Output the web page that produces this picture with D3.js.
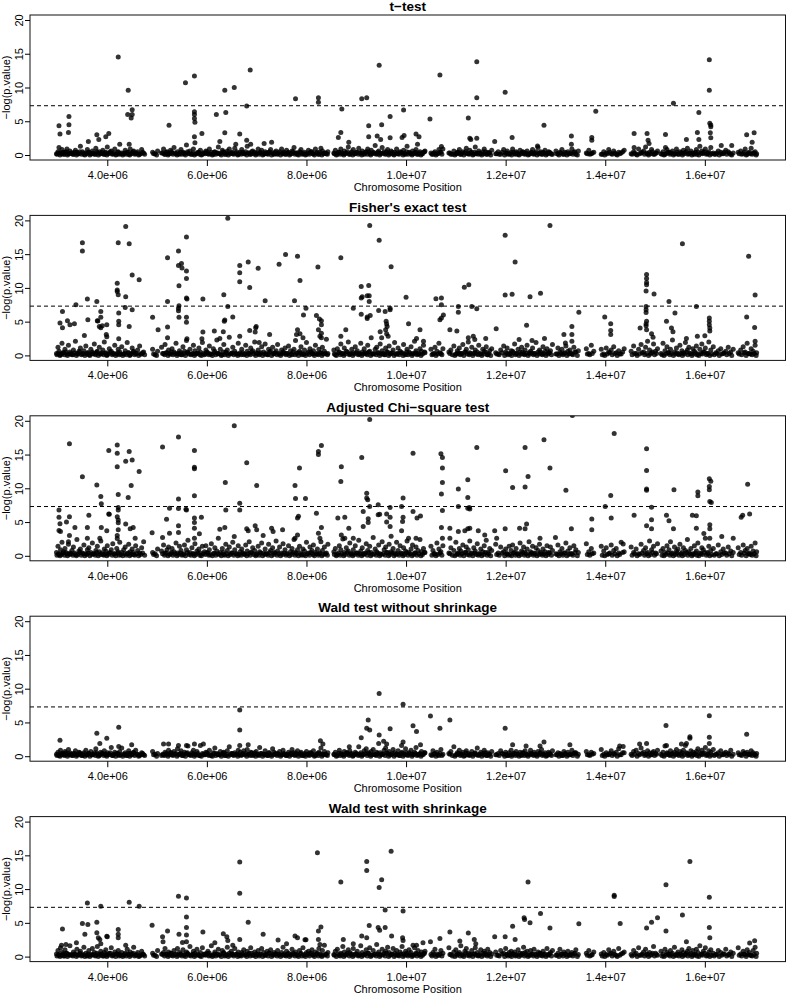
<!DOCTYPE html>
<html><head><meta charset="utf-8">
<script src="https://cdn.jsdelivr.net/npm/d3@7"></script>
<style>body{margin:0;background:#fff}svg{display:block}</style>
</head><body>
<svg id="chart" width="786" height="994"></svg>
<script>
// ---------------- data ----------------
const panelTitles = ["t\u2212test", "Fisher's exact test", "Adjusted Chi\u2212square test", "Wald test without shrinkage", "Wald test with shrinkage"];
const xTickValues = [4, 6, 8, 10, 12, 14, 16]; // Mb
const xTickLabels = ["4.0e+06", "6.0e+06", "8.0e+06", "1.0e+07", "1.2e+07", "1.4e+07", "1.6e+07"];
const yTickValues = [0, 5, 10, 15, 20];
const xLabel = "Chromosome Position";
const yLabel = "\u2212log(p.value)";
const threshold = 7.3;

// SNP positions (Mb) of the dense low band
const snpPos = [
2.98,3.01,3.03,3.06,3.09,3.12,3.15,3.19,3.22,3.25,3.29,3.32,3.36,3.39,3.43,3.46,3.5,3.53,3.57,3.6,
3.63,3.67,3.7,3.74,3.77,3.8,3.84,3.87,3.91,3.94,3.97,4.0,4.04,4.08,4.11,4.15,4.19,4.22,4.25,4.29,
4.33,4.36,4.4,4.43,4.46,4.5,4.53,4.57,4.61,4.65,4.69,4.73,4.91,4.96,5.01,5.09,5.13,5.16,5.2,5.23,
5.27,5.3,5.34,5.38,5.41,5.45,5.48,5.52,5.55,5.59,5.62,5.66,5.7,5.73,5.76,5.8,5.84,5.87,5.91,5.95,
5.98,6.02,6.05,6.09,6.13,6.16,6.2,6.23,6.27,6.31,6.34,6.38,6.41,6.45,6.49,6.52,6.56,6.6,6.63,6.67,
6.7,6.74,6.78,6.81,6.85,6.88,6.92,6.96,6.99,7.03,7.06,7.1,7.14,7.17,7.21,7.24,7.28,7.32,7.35,7.39,
7.42,7.46,7.5,7.53,7.57,7.6,7.64,7.68,7.71,7.75,7.78,7.82,7.86,7.89,7.93,7.96,8.0,8.04,8.07,8.11,
8.14,8.18,8.22,8.25,8.29,8.32,8.36,8.4,8.43,8.55,8.58,8.62,8.66,8.69,8.73,8.76,8.8,8.84,8.87,8.91,
8.94,8.98,9.02,9.05,9.09,9.12,9.16,9.2,9.23,9.27,9.3,9.34,9.38,9.41,9.45,9.48,9.52,9.56,9.59,9.63,
9.66,9.7,9.74,9.77,9.81,9.84,9.88,9.92,9.95,9.99,10.02,10.06,10.1,10.13,10.17,10.2,10.24,10.28,10.31,10.35,
10.38,10.5,10.54,10.58,10.62,10.66,10.7,10.74,10.86,10.9,10.96,11.0,11.03,11.07,11.1,11.14,11.18,11.21,11.25,11.28,
11.32,11.36,11.39,11.43,11.46,11.5,11.54,11.57,11.61,11.64,11.68,11.72,11.8,11.85,11.9,11.96,12.0,12.03,12.07,12.11,
12.14,12.18,12.21,12.25,12.29,12.32,12.36,12.39,12.43,12.47,12.5,12.54,12.57,12.61,12.65,12.68,12.72,12.75,12.79,12.83,
12.86,12.9,12.94,13.01,13.05,13.09,13.13,13.17,13.21,13.25,13.29,13.33,13.37,13.41,13.46,13.62,13.67,13.72,13.77,13.92,
13.97,14.02,14.07,14.12,14.17,14.22,14.27,14.32,14.38,14.52,14.57,14.62,14.67,14.72,14.77,14.81,14.85,14.89,14.93,14.97,
15.01,15.05,15.12,15.16,15.2,15.24,15.28,15.31,15.35,15.39,15.43,15.46,15.5,15.54,15.57,15.61,15.65,15.68,15.72,15.76,
15.79,15.83,15.86,15.9,15.94,15.97,16.01,16.05,16.08,16.12,16.17,16.22,16.27,16.32,16.37,16.42,16.47,16.52,16.57,16.67,
16.72,16.77,16.81,16.85,16.89,16.93,16.97,17.01,17.04];

// null SNPs (positions in Mb, -log p) that sit at the bottom of every panel
const nullPos = [
2.99,3.02,3.05,3.08,3.11,3.14,3.17,3.2,3.24,3.27,3.31,3.34,3.38,3.41,3.45,3.48,3.52,3.55,3.59,3.62,
3.65,3.69,3.72,3.76,3.79,3.82,3.86,3.89,3.93,3.96,3.99,4.02,4.06,4.1,4.13,4.17,4.21,4.24,4.27,4.31,
4.35,4.38,4.42,4.45,4.48,4.52,4.55,4.59,4.63,4.67,4.71,4.75,4.93,4.99,5.11,5.15,5.18,5.22,5.25,5.29,
5.32,5.36,5.4,5.43,5.47,5.5,5.54,5.57,5.61,5.64,5.68,5.72,5.75,5.78,5.82,5.86,5.89,5.93,5.97,6.0,
6.04,6.07,6.11,6.15,6.18,6.22,6.25,6.29,6.33,6.36,6.4,6.43,6.47,6.51,6.54,6.58,6.62,6.65,6.69,6.72,
6.76,6.8,6.83,6.87,6.9,6.94,6.98,7.01,7.05,7.08,7.12,7.16,7.19,7.23,7.26,7.3,7.34,7.37,7.41,7.44,
7.48,7.52,7.55,7.59,7.62,7.66,7.7,7.73,7.77,7.8,7.84,7.88,7.91,7.95,7.98,8.02,8.06,8.09,8.13,8.16,
8.2,8.24,8.27,8.31,8.34,8.38,8.42,8.56,8.6,8.64,8.68,8.71,8.75,8.78,8.82,8.86,8.89,8.93,8.96,9.0,
9.04,9.07,9.11,9.14,9.18,9.22,9.25,9.29,9.32,9.36,9.4,9.43,9.47,9.5,9.54,9.58,9.61,9.65,9.68,9.72,
9.76,9.79,9.83,9.86,9.9,9.94,9.97,10.01,10.04,10.08,10.12,10.15,10.19,10.22,10.26,10.3,10.33,10.37,10.52,10.56,
10.6,10.64,10.68,10.72,10.88,10.93,10.98,11.02,11.05,11.09,11.12,11.16,11.2,11.23,11.27,11.3,11.34,11.38,11.41,11.45,
11.48,11.52,11.56,11.59,11.63,11.66,11.7,11.82,11.87,11.93,11.98,12.02,12.05,12.09,12.12,12.16,12.2,12.23,12.27,12.31,
12.34,12.38,12.41,12.45,12.49,12.52,12.56,12.59,12.63,12.67,12.7,12.74,12.77,12.81,12.85,12.88,12.92,13.03,13.07,13.11,
13.15,13.19,13.23,13.27,13.31,13.35,13.39,13.44,13.64,13.69,13.74,13.94,13.99,14.04,14.09,14.14,14.19,14.24,14.29,14.35,
14.54,14.59,14.64,14.69,14.74,14.79,14.83,14.87,14.91,14.95,14.99,15.03,15.14,15.18,15.22,15.26,15.3,15.33,15.37,15.41,
15.44,15.48,15.52,15.55,15.59,15.63,15.66,15.7,15.74,15.77,15.81,15.84,15.88,15.92,15.95,15.99,16.03,16.06,16.1,16.14,
16.19,16.24,16.29,16.34,16.39,16.44,16.49,16.54,16.69,16.74,16.79,16.83,16.87,16.91,16.95,16.99,17.03];
const nullVals = [
.1,.3,0,.2,.4,.1,.5,0,.2,.3,.1,.4,0,.2,.5,.1,.3,0,.2,.4,
0,.2,.3,.1,.5,0,.2,.4,.1,.3,0,.2,.5,.1,.3,0,.4,.1,.2,0,
.3,.1,.4,0,.2,.5,.1,.3,0,.2,.4,.1,.2,0,.3,.1,.4,0,.2,.5,
.1,.3,0,.2,.4,.1,.3,0,.5,.2,.1,.3,0,.2,.4,.1,0,.3,.2,.5,
.1,.2,0,.4,.1,.3,.2,0,.5,.1,.3,0,.2,.4,.1,.3,0,.2,.1,.4,
.2,0,.3,.1,.5,.2,0,.3,.1,.4,0,.2,.3,.1,.5,0,.2,.4,.1,.3,
0,.2,.4,.1,.3,0,.2,.5,.1,.3,0,.4,.1,.2,0,.3,.1,.5,.2,0,
.3,.1,.4,0,.2,.3,.1,.2,0,.4,.1,.3,0,.2,.5,.1,.3,0,.2,.4,
.1,.3,0,.2,.4,.1,.5,0,.2,.3,.1,.4,0,.2,.3,.1,.5,0,.2,.4,
0,.2,.3,.1,.4,0,.2,.5,.1,.3,0,.2,.4,.1,.3,0,.2,.5,.1,.3,
0,.2,.4,.1,.3,.1,0,.2,.4,.1,.3,0,.5,.2,.1,.3,0,.4,.2,.1,
.3,0,.2,.5,.1,.3,0,.2,.1,.4,0,.3,.1,.2,0,.4,.1,.3,0,.2,
.5,.1,.3,0,.2,.4,.1,.3,0,.2,.5,.1,.3,0,.2,.4,.1,.2,0,.3,
.1,.4,0,.2,.3,.1,.5,0,.2,.1,.3,.1,0,.2,.4,.1,.3,0,.2,.5,
.1,.3,0,.2,.4,.1,.3,0,.2,.5,.1,.3,.1,0,.2,.4,.1,.3,0,.2,
.4,.1,.3,0,.2,.5,.1,.3,0,.2,.4,.1,0,.3,.2,.5,.1,.3,0,.2,
.1,.3,0,.2,.4,.1,.3,0,.2,.1,.4,0,.3,.2,.1,.3,0];

// -log(p) of the band SNPs, one array per test
const tTestBand = [
.2,.5,1.1,.3,.8,.1,.4,.9,.2,.6,.3,.1,.7,.4,.2,1.3,.5,.1,.3,.8,
.4,.2,.6,.1,1.0,.3,.5,.2,.7,.1,.4,1.2,.3,.6,.2,.9,.1,.5,1.6,.3,
.2,.7,.4,.1,.9,.3,.6,.2,.5,.1,.8,.3,.4,.2,.6,.3,.9,.1,.5,.2,
.7,.3,1.1,.2,.5,.1,.8,.4,.2,1.5,.3,.6,.1,.9,1.8,.2,.4,.7,.1,.3,
.6,.2,.9,.4,.1,.5,.3,1.2,.2,.7,.4,.1,.6,.9,.3,.2,1.0,.5,.1,.4,
.8,.2,.5,1.3,.3,.1,.6,.4,.2,.9,.3,.7,.1,.5,.2,.4,.8,.3,.1,.6,
.2,.5,.9,.3,.1,.7,.4,.2,.6,1.1,.3,.1,.5,.8,.2,.4,.1,.7,.3,.5,
.2,.9,.4,.1,1.0,.6,.3,.2,.5,.3,.7,.1,.4,.9,.2,.6,.3,1.2,.1,.5,
.8,.2,.4,1.0,.3,.6,.1,.5,.9,.2,.7,.4,1.4,.2,.6,.3,1.1,.5,.2,.8,
.3,.6,.1,.4,.9,.2,.5,.3,.7,.1,1.3,.4,.2,.6,.3,.8,.1,.5,.2,.4,
.6,.3,.1,.5,.2,.8,.4,.9,.3,.1,.6,.2,.4,.8,.1,.5,.3,1.0,.2,.7,
.4,.1,1.2,.3,.6,.2,.5,.9,.1,.4,.3,.7,.2,.5,.1,.8,.3,.6,.2,.4,
.9,.2,.5,.1,.7,.3,.4,.2,.6,.1,.3,.8,.2,.5,1.1,.3,.1,.4,.7,.2,
.5,.3,.1,.6,.2,.4,.8,.1,.3,.5,.2,.9,.4,.1,.6,.3,.7,.2,.4,.1,
.5,.3,.8,.2,.6,.1,.4,.3,.7,.2,.5,.1,.9,.3,.6,1.2,.2,.4,.8,.1,
.3,.6,.2,.5,.1,.8,.4,.3,.6,.2,.9,.1,.5,.3,.7,.4,1.0,.2,.6,.3,
.1,.8,.4,1.3,.6,.3,.9,.2,.5,1.1,.3,.1,.6,.4,.2,.7,.5,.1,.3,.4,
.6,.2,.9,.1,.4,1.0,.3,.5,.2];
const fisherBand = [
.3,1.2,.6,.1,1.8,.4,.9,.2,1.5,.5,.1,.8,2.1,.3,.6,1.1,.2,.7,1.4,.4,
.1,.9,.5,1.7,.3,.6,1.2,.2,.8,2.0,.4,.1,1.0,.6,.3,1.5,.2,.9,.5,1.3,
.2,.7,1.9,.4,.1,1.1,.6,.3,.8,1.4,.2,.5,.9,.1,.6,1.2,.3,1.6,.4,.8,
.2,1.0,.5,1.8,.3,.7,.1,1.3,.6,2.2,.4,.9,.2,1.5,.7,.3,1.1,.5,1.9,.1,
.8,.4,1.4,.2,1.0,.6,2.3,.3,.9,.1,1.6,.5,.8,2.7,.3,1.2,.6,.2,1.8,.4,
.9,.1,1.5,.6,.3,1.1,.7,2.0,.4,.8,.2,1.3,.5,1.7,.1,.9,.6,1.2,.3,.7,
1.6,.2,.8,.5,1.1,.3,1.4,.7,.1,.9,2.2,.4,.6,1.3,.2,.8,1.9,.5,1.0,.3,
.7,1.5,.2,.9,.4,1.2,.6,2.4,.3,.8,.1,1.0,.5,1.7,.3,1.1,.6,2.0,.2,.9,
.4,1.3,.7,.2,1.8,.5,1.0,.3,1.5,.6,2.6,.2,.9,1.2,.4,1.7,.7,.1,1.1,.5,
1.4,.3,.8,1.9,.2,1.1,.6,.4,1.6,.1,.9,.5,1.3,.3,2.1,.7,.2,1.0,.6,1.5,
.4,.9,.2,1.2,.6,1.8,.3,1.0,.5,.8,1.4,.2,.7,1.1,.3,1.6,.5,.9,2.0,.4,
1.2,.3,.8,.5,1.5,.2,.9,.6,1.3,.1,.7,1.0,.4,.2,.8,1.4,.5,1.1,.3,.7,
.6,1.7,.3,.9,.5,1.2,.2,.8,1.5,.4,.6,1.1,.3,1.9,.5,.8,.2,1.3,.6,1.0,
.4,.7,1.6,.2,1.1,.5,.9,.3,1.4,.6,.8,.2,1.2,.5,.7,1.0,.3,1.5,.6,.9,
.2,1.1,.5,.8,1.3,.4,.7,.2,1.0,.6,1.4,.3,.9,1.6,.5,1.2,2.1,.8,.4,1.7,
.6,1.0,.3,1.8,.7,1.3,.4,.9,2.3,.5,1.1,.2,1.5,.7,.4,1.9,.8,1.2,.3,1.0,
.6,1.4,.2,.9,1.7,.5,1.1,.3,2.0,.8,1.3,.4,.7,1.0,.3,.6,1.2,.5,.9,.4,
.8,1.3,.5,1.8,.3,1.0,.6,1.5,.4];
const chisqBand = [
.5,1.4,.2,.9,2.0,.6,1.1,.3,1.7,.4,.8,1.3,.2,2.4,.7,1.0,.4,1.6,.3,.9,
1.2,.5,1.9,.3,.8,1.4,.6,2.2,.2,1.0,.7,1.5,.4,.9,1.8,.3,1.1,.6,2.0,.5,
.9,1.3,.3,1.7,.6,1.0,.2,1.5,.8,.4,1.2,2.1,.5,.3,1.0,.7,1.6,.4,.9,1.3,
.3,1.1,.6,1.9,.4,1.4,.8,.2,1.6,.9,2.3,.5,1.2,.3,1.8,.7,1.0,.4,1.4,.6,
1.5,.4,.9,1.8,.3,1.2,.7,2.6,.5,1.1,.2,1.7,.8,1.3,.4,2.0,.9,.3,1.5,.6,
1.0,.3,1.6,.7,2.1,.5,1.2,.8,.2,1.4,.6,1.9,.4,1.0,.3,1.7,.8,1.2,.5,2.2,
.7,1.3,.4,1.8,.9,.3,1.5,.6,1.1,2.4,.5,.9,1.4,.2,1.0,.7,2.0,.4,1.3,.8,
1.6,.5,1.0,.3,2.1,.8,1.3,.4,1.7,.6,1.1,.2,1.5,.9,2.5,.5,1.2,.7,1.9,.3,
.9,1.5,.4,2.3,.7,1.2,.3,1.8,.8,1.4,.5,2.7,1.0,.6,1.6,.3,2.1,.9,1.3,.5,
1.7,.6,1.1,.4,2.0,.8,1.5,.3,1.2,.7,2.2,.5,1.0,1.6,.4,1.3,.8,2.4,.6,1.1,
.5,1.4,.8,.3,1.9,1.0,.6,1.5,.4,1.2,.8,2.0,.3,1.1,.7,1.6,.5,1.3,.9,2.2,
.4,1.2,.7,1.8,.3,1.0,.6,1.5,2.3,.5,1.1,.8,1.7,.4,1.3,.6,1.0,.3,1.4,.8,
1.6,.5,1.1,.3,1.9,.7,1.3,.5,1.0,2.1,.6,1.4,.4,1.2,.8,1.7,.3,1.0,.6,1.5,
.5,1.3,.8,.3,1.6,.6,1.1,.4,1.9,.7,1.2,.3,1.5,.9,.5,1.8,.6,1.1,.4,1.4,
.7,1.2,.3,1.6,.8,1.1,.4,2.0,.6,1.3,.5,1.0,.3,1.7,.8,1.2,.5,2.2,.9,1.4,
.4,1.8,.7,1.1,.5,1.5,.9,2.1,.4,1.3,.7,1.0,1.7,.5,1.2,.8,2.4,.6,1.1,.3,
1.5,.7,1.9,.4,1.2,.9,2.6,.5,1.4,.8,1.1,.3,1.6,.6,1.0,.4,1.3,.7,.5,1.2,
.5,1.6,.8,1.1,.4,1.4,.7,1.9,.6];
const waldBand = [
.3,.6,.1,.9,.4,.2,.7,.3,1.0,.5,.1,.4,.8,.2,.6,.3,.1,.5,.9,.2,
.4,.7,.2,.5,1.1,.3,.1,.6,.4,.8,.2,.5,.3,1.3,.1,.6,.4,.2,.7,1.2,
.3,.5,.1,.8,.4,.2,.6,.9,.3,.1,.5,.2,.7,.3,.4,.1,.2,.6,.3,.9,
.5,.2,.7,.4,1.1,.3,.8,.1,.6,.4,1.5,.2,.5,.9,.3,.7,.1,1.6,.4,.2,
.6,.3,.9,.1,.5,1.2,.4,.2,.7,.3,.6,.1,.8,1.4,.4,.2,.5,.3,.9,.6,
.2,.8,.4,1.0,.3,.6,.1,.5,.7,.2,1.3,.4,.3,.8,.1,.5,.2,1.1,.6,.3,
.4,.7,.2,.9,.3,.1,.6,.4,1.0,.2,.5,.8,.3,.6,.1,.4,.7,.2,.5,.3,
.8,.1,.4,.6,1.2,.3,.7,.2,.5,.3,.6,.1,.9,.4,.2,.7,.5,.3,.8,.4,
.1,.6,.3,1.4,.5,.2,.8,1.1,.4,.3,.7,1.0,.2,.6,1.9,.5,.3,.9,1.2,.4,
.7,.2,1.0,.5,.3,.8,.1,.6,.4,1.1,.2,.5,.9,.3,.6,1.3,.2,.4,.7,.3,
.5,.2,.8,.4,.6,.1,1.0,.3,.4,.7,1.4,.2,.5,.9,.3,.6,.1,.8,.4,.2,
.7,.3,.5,1.2,.2,.6,.4,.9,.1,.5,.3,.7,.2,.4,.8,.3,.6,.1,.5,.9,
.2,.4,.7,.3,.6,.1,.5,.8,.2,.4,.9,.3,.6,.2,.7,.4,1.0,.3,.5,.1,
.6,.3,.8,.2,.5,.4,.1,.7,.3,.6,.2,.9,.4,.5,.3,.7,.2,.6,.4,1.0,
.3,.5,.2,.8,.4,.6,1.1,.2,.5,.3,.7,.9,.4,1.2,.6,.3,.8,.5,.2,.7,
.4,.9,.3,.6,1.5,.5,.2,.8,.4,.6,1.0,.3,.7,.5,.9,1.6,.4,.2,.8,.6,
.3,.7,1.1,.5,.9,.4,1.3,.2,.8,.6,1.0,.3,.5,.8,.2,.6,.4,.9,.3,.5,
.2,.7,.4,.6,.3,.8,.5,.2,.4];
const waldShrinkBand = [
.4,.9,.2,1.3,.6,.1,1.0,.5,.3,1.6,.2,.7,.4,1.1,.3,.8,.2,1.4,.5,.1,
.9,.3,1.2,.6,.2,1.5,.4,.8,.1,.6,1.0,.3,.5,1.3,.2,.7,.4,.9,.3,.6,
.2,.5,1.1,.3,.7,.4,1.4,.2,.6,.1,.8,.3,.5,.2,.9,.4,.6,1.2,.3,.7,
.5,.2,.9,.4,1.2,.6,.3,1.0,.2,.7,.4,1.5,.3,.8,.5,1.1,.2,.6,1.3,.4,
.3,.8,.5,1.6,.2,.7,.4,1.1,.3,.9,.6,.2,1.4,.5,.8,.3,1.2,.4,.7,.2,
.6,1.0,.3,.8,.5,1.3,.2,.7,.4,.9,.3,1.2,.6,.2,.8,.5,1.0,.3,.6,.4,
.9,.3,.6,1.4,.2,.8,.5,.3,1.1,.4,.7,.2,.9,.5,1.3,.3,.6,.8,.4,1.0,
.3,.7,.5,1.2,.2,.9,1.7,.4,.6,.3,.8,1.1,.2,.5,1.5,.7,.3,1.0,.6,.4,
1.2,.4,.8,.2,1.6,.6,.3,1.0,.5,1.3,.2,.9,.4,1.8,.7,.3,1.1,.5,.8,1.4,
.6,.3,1.2,.5,.9,.2,.7,1.5,.4,.8,.3,1.0,.6,.2,1.3,.5,.9,.3,.7,.4,
.8,.3,.6,1.1,.4,.2,.9,.5,1.3,.3,.7,1.0,.4,.6,1.6,.2,.8,1.2,.5,.3,
.9,.4,1.3,.6,.2,1.0,.5,.8,.3,1.1,.6,.4,.7,.2,.9,.5,1.2,.3,.6,.8,
.4,.7,.2,1.0,.5,.3,1.4,.6,.8,.2,.9,.4,1.1,.3,.7,.5,.2,.8,.4,1.2,
.3,.6,.9,.2,.5,1.1,.4,.7,.3,.8,.2,.6,.4,1.0,.3,.5,.9,.2,.7,.4,
.6,.3,1.0,.5,.8,.2,1.2,.4,.7,.3,.9,.5,1.3,.2,.7,1.1,.4,.6,.3,1.5,
.5,.2,.8,.4,1.1,.6,.3,.9,.5,1.4,.2,.7,.4,1.0,.6,.3,.8,1.2,.5,.9,
.3,1.1,.6,1.6,.4,.8,1.3,.2,.7,1.0,.5,.3,.9,.6,.4,1.1,.3,.7,.5,1.3,
.4,.8,.3,1.0,.6,.2,.9,1.4,.5];

// higher SNPs, [position (Mb), -log(p)]
const tTestHits = [[3.03,4.35],[3.05,3.1],[3.23,5.7],[3.23,4.5],[3.22,3.35],[3.62,2.0],[3.79,3.0],[3.83,2.3],[3.97,2.7],[4.03,3.2],[4.22,14.5],[4.42,9.6],[4.41,6.0],[4.5,6.7],[4.5,6.0],[4.48,5.5],[4.44,1.6],[5.24,4.4],[5.57,10.7],[5.75,11.7],[5.75,6.4],[5.75,6.0],[5.75,5.4],[5.76,4.85],[5.75,2.7],[5.9,3.2],[6.19,6.0],[6.26,2.0],[6.36,9.6],[6.38,6.3],[6.36,3.3],[6.55,10.0],[6.66,3.1],[6.8,7.25],[6.8,2.2],[6.87,12.6],[6.88,1.6],[6.58,1.6],[7.15,1.7],[7.3,1.9],[7.78,8.35],[8.24,8.5],[8.24,7.8],[8.71,6.8],[8.69,3.35],[8.64,2.6],[8.85,1.9],[9.11,8.35],[9.21,8.5],[9.46,13.3],[9.68,5.7],[9.51,4.5],[9.25,4.35],[9.42,2.8],[9.49,2.3],[9.25,2.7],[9.68,2.55],[9.95,6.65],[9.92,2.6],[9.96,2.9],[10.2,3.1],[10.26,2.7],[10.23,1.6],[10.48,5.35],[10.68,11.85],[10.71,1.25],[11.25,5.5],[11.42,13.8],[11.42,8.5],[11.28,2.5],[11.3,2.3],[11.42,2.5],[11.78,2.0],[11.99,9.3],[12.13,2.6],[12.77,4.4],[12.64,1.35],[13.32,2.8],[13.32,1.6],[13.81,6.5],[13.73,2.6],[13.73,2.2],[14.58,3.2],[14.58,1.1],[14.84,3.2],[14.86,2.2],[14.88,1.7],[15.21,3.05],[15.21,1.1],[15.37,7.65],[15.63,2.3],[15.88,6.3],[15.85,3.35],[15.88,2.3],[16.09,14.1],[16.09,9.6],[16.1,4.7],[16.12,4.45],[16.12,4.2],[16.12,2.55],[16.11,3.3],[16.33,1.4],[16.54,1.4],[16.84,3.0],[16.99,3.3],[16.95,1.9]];
const fisherHits = [[3.05,4.8],[3.1,4.1],[3.1,6.5],[3.2,5.15],[3.25,4.55],[3.34,4.7],[3.37,7.5],[3.5,16.7],[3.5,15.45],[3.54,2.95],[3.6,8.35],[3.61,5.3],[3.79,8.0],[3.8,5.15],[3.81,5.1],[3.87,6.5],[3.87,5.65],[3.84,4.3],[3.87,4.1],[3.9,4.4],[3.99,4.55],[3.98,3.1],[3.99,2.75],[4.2,10.7],[4.2,9.7],[4.2,9.45],[4.22,9.0],[4.22,16.7],[4.23,6.3],[4.23,5.05],[4.23,4.55],[4.23,2.45],[4.37,19.1],[4.37,8.7],[4.36,7.1],[4.44,16.55],[4.44,4.3],[4.5,11.9],[4.5,6.75],[4.64,11.2],[4.91,5.65],[5.02,3.8],[5.21,14.45],[5.21,8.0],[5.21,4.2],[5.21,2.6],[5.43,15.45],[5.43,13.3],[5.44,10.3],[5.43,7.0],[5.43,6.6],[5.44,7.35],[5.44,5.65],[5.49,13.6],[5.5,12.95],[5.59,17.55],[5.59,12.5],[5.59,11.4],[5.59,8.5],[5.6,8.35],[5.59,5.65],[5.59,4.9],[5.6,2.45],[5.92,8.35],[5.92,3.45],[5.9,2.45],[6.15,3.6],[6.26,2.5],[6.34,9.0],[6.35,5.05],[6.36,5.25],[6.33,3.5],[6.42,20.3],[6.42,7.25],[6.52,5.7],[6.66,13.3],[6.66,12.25],[6.66,10.9],[6.66,2.85],[6.83,13.85],[6.86,10.05],[6.86,3.7],[6.98,4.1],[6.99,4.3],[6.97,3.45],[7.03,12.9],[7.05,1.9],[7.17,8.1],[7.26,3.1],[7.45,13.5],[7.58,14.95],[7.76,8.1],[7.82,14.7],[7.87,11.1],[7.8,3.1],[7.82,3.8],[7.94,6.0],[7.99,7.0],[7.87,3.2],[7.93,2.6],[8.23,13.1],[8.2,5.9],[8.26,5.4],[8.3,5.15],[8.3,4.55],[8.24,3.8],[8.3,3.3],[8.27,2.85],[8.3,2.6],[8.69,14.45],[8.79,3.8],[8.69,2.85],[8.94,7.0],[9.1,10.2],[9.1,8.5],[9.12,8.7],[9.25,10.35],[9.26,8.85],[9.22,8.85],[9.26,8.0],[9.1,6.1],[9.22,5.7],[9.22,5.45],[9.28,5.9],[9.27,19.25],[9.46,17.05],[9.7,13.15],[9.45,6.65],[9.58,6.5],[9.68,6.75],[9.68,7.0],[9.6,5.05],[9.61,4.65],[9.62,4.3],[9.59,3.8],[9.61,3.2],[9.64,2.85],[9.51,2.6],[9.48,3.5],[10.0,8.6],[10.05,4.7],[10.28,3.8],[10.21,2.5],[10.35,2.1],[10.6,8.4],[10.71,8.5],[10.71,7.5],[10.68,5.3],[10.71,5.55],[10.75,6.0],[10.88,3.8],[11.02,3.6],[11.05,7.25],[11.05,6.4],[11.17,10.1],[11.26,10.45],[11.32,7.25],[11.42,6.9],[11.35,2.85],[11.25,2.6],[11.38,2.35],[11.6,2.5],[11.81,3.95],[11.99,17.8],[11.99,8.95],[12.13,9.05],[12.19,13.85],[12.27,2.35],[12.42,4.45],[12.49,8.7],[12.53,2.2],[12.7,9.2],[12.78,2.5],[12.89,19.25],[13.2,1.85],[13.17,3.1],[13.33,4.3],[13.33,3.1],[13.33,2.1],[13.47,6.4],[13.99,5.7],[14.11,4.7],[14.11,3.7],[14.11,3.1],[14.7,4.05],[14.83,12.0],[14.83,11.4],[14.83,10.8],[14.83,10.45],[14.82,9.55],[14.82,7.25],[14.82,6.75],[14.82,6.35],[14.83,5.05],[14.82,4.65],[14.82,4.4],[14.83,3.8],[14.93,3.2],[14.96,2.7],[14.98,9.1],[15.23,5.05],[15.28,8.0],[15.33,4.05],[15.36,3.5],[15.4,6.3],[15.63,2.5],[15.55,16.55],[15.83,7.25],[15.85,2.85],[16.09,5.55],[16.09,5.05],[16.09,4.55],[16.1,4.05],[16.1,3.6],[16.0,2.9],[16.84,5.7],[16.88,14.7],[17.01,8.95],[17.0,4.15],[17.01,2.1]];
const chisqHits = [[3.03,6.8],[3.03,5.7],[3.05,4.75],[3.03,3.75],[3.06,3.6],[3.24,16.6],[3.24,5.8],[3.18,5.0],[3.24,3.0],[3.22,2.1],[3.35,4.2],[3.5,11.7],[3.63,6.0],[3.6,4.2],[3.6,2.6],[3.79,10.5],[3.87,8.8],[3.88,7.7],[3.88,4.2],[3.85,2.6],[3.99,3.7],[4.03,15.6],[4.03,6.2],[4.04,6.15],[4.2,16.4],[4.2,15.2],[4.2,13.2],[4.22,9.1],[4.22,7.15],[4.22,6.8],[4.2,5.8],[4.22,5.3],[4.22,4.9],[4.22,3.85],[4.2,3.0],[4.2,2.55],[4.37,14.0],[4.44,15.45],[4.5,14.2],[4.48,10.4],[4.42,8.65],[4.37,4.7],[4.46,4.0],[4.52,4.2],[4.56,2.6],[4.64,12.5],[4.9,3.4],[5.11,16.1],[5.19,5.4],[5.25,7.05],[5.11,2.7],[5.25,3.35],[5.43,17.6],[5.43,8.4],[5.43,7.0],[5.43,4.45],[5.43,3.45],[5.59,6.8],[5.58,6.9],[5.75,15.6],[5.75,13.1],[5.75,12.9],[5.75,8.9],[5.75,5.6],[5.75,4.95],[5.75,4.1],[5.75,2.6],[5.89,5.7],[5.85,3.25],[6.26,3.95],[6.36,4.2],[6.37,10.85],[6.38,6.8],[6.55,19.25],[6.66,7.8],[6.66,6.8],[6.55,2.85],[6.8,13.8],[6.8,4.0],[6.83,3.7],[7.0,10.4],[6.97,4.45],[7.0,3.85],[7.13,3.0],[7.3,4.1],[7.33,3.6],[7.52,3.85],[7.77,10.4],[7.78,8.5],[7.82,5.6],[7.84,5.85],[7.86,13.0],[7.98,8.5],[7.77,2.6],[7.82,3.1],[8.2,6.3],[8.24,15.45],[8.24,15.0],[8.3,16.35],[8.24,3.35],[8.3,4.2],[8.27,2.6],[8.63,5.6],[8.7,13.2],[8.69,11.0],[8.77,5.7],[8.85,4.1],[8.7,3.1],[8.77,2.6],[8.94,2.6],[9.11,14.55],[9.14,6.55],[9.14,4.35],[9.21,9.25],[9.21,8.55],[9.23,8.3],[9.27,7.3],[9.24,5.5],[9.24,4.95],[9.27,20.2],[9.44,7.55],[9.44,6.1],[9.47,6.15],[9.61,6.2],[9.61,5.0],[9.68,7.15],[9.7,2.9],[9.68,5.7],[9.68,4.35],[9.94,8.55],[9.91,7.3],[9.94,5.7],[9.93,5.1],[9.91,3.7],[10.14,15.2],[10.14,6.55],[10.22,5.6],[10.29,5.9],[10.2,2.6],[10.05,2.6],[10.7,15.1],[10.73,14.55],[10.73,13.0],[10.73,10.85],[10.71,9.15],[10.73,6.7],[10.71,4.2],[10.73,2.6],[10.88,4.1],[10.88,2.6],[11.05,9.9],[11.05,7.3],[11.05,3.6],[11.24,11.25],[11.24,8.65],[11.27,7.15],[11.28,6.95],[11.24,7.05],[11.28,4.1],[11.24,4.0],[11.18,3.7],[11.42,16.05],[11.45,3.7],[11.58,3.1],[11.78,3.7],[11.82,2.6],[12.0,12.6],[11.99,4.0],[12.14,10.1],[12.39,16.05],[12.39,10.2],[12.45,11.75],[12.28,4.1],[12.39,4.0],[12.42,4.7],[12.69,2.6],[12.77,17.2],[12.89,13.0],[13.0,2.7],[13.21,9.7],[13.32,4.0],[13.34,20.8],[13.73,5.45],[13.73,3.85],[14.0,7.3],[14.11,8.95],[14.12,5.6],[14.18,18.1],[14.36,1.75],[14.58,6.0],[14.83,15.85],[14.83,12.65],[14.83,9.9],[14.83,9.7],[14.83,4.45],[14.93,7.2],[14.93,5.35],[14.93,4.0],[15.23,6.0],[15.28,5.2],[15.38,9.8],[15.37,4.0],[15.75,6.0],[15.83,5.95],[15.86,9.45],[15.86,8.9],[15.83,4.1],[15.98,3.3],[16.09,11.4],[16.12,11.05],[16.09,10.25],[16.09,9.8],[16.1,8.05],[16.13,7.9],[16.1,4.6],[16.1,4.0],[16.1,2.6],[16.34,2.85],[16.57,2.6],[16.73,5.7],[16.76,6.0],[16.9,6.2],[16.86,10.6]];
const waldHits = [[3.05,2.35],[3.79,3.4],[3.85,1.9],[3.99,2.65],[4.23,4.3],[4.23,1.45],[4.49,1.7],[5.13,1.8],[5.23,1.8],[5.43,1.6],[5.59,1.6],[5.75,1.8],[5.93,1.8],[6.66,6.85],[6.66,3.9],[6.66,1.6],[6.83,1.7],[8.28,2.3],[8.33,1.8],[8.86,1.4],[9.1,2.75],[9.24,5.35],[9.21,4.15],[9.27,3.9],[9.46,9.3],[9.46,3.15],[9.68,4.05],[9.55,2.2],[9.61,1.8],[9.94,7.7],[9.91,1.6],[9.94,2.1],[10.14,4.5],[10.21,3.65],[10.29,1.7],[10.49,5.95],[10.68,4.15],[10.88,5.35],[11.99,4.15],[12.14,1.7],[12.41,1.5],[12.69,1.5],[12.77,2.1],[13.29,1.7],[14.29,1.5],[14.36,1.45],[14.69,1.8],[14.83,1.9],[15.22,4.55],[15.23,1.6],[15.53,1.8],[15.63,1.9],[15.7,2.65],[15.7,2.9],[16.09,6.0],[16.09,2.8],[16.09,1.9],[16.84,3.25]];
const waldShrinkHits = [[3.1,4.1],[3.08,1.7],[3.17,1.8],[3.38,2.05],[3.5,4.9],[3.55,3.3],[3.6,7.95],[3.61,4.75],[3.79,5.1],[3.79,3.55],[3.82,2.8],[3.85,2.55],[3.87,7.45],[3.87,1.9],[3.99,3.0],[4.0,2.95],[4.22,4.0],[4.22,3.3],[4.22,2.8],[4.37,1.7],[4.44,8.05],[4.64,7.45],[4.9,4.65],[5.11,2.95],[5.12,2.2],[5.21,3.8],[5.43,8.95],[5.44,3.3],[5.51,2.1],[5.59,8.7],[5.59,5.85],[5.59,4.3],[5.59,3.2],[5.59,2.2],[5.92,3.65],[6.16,2.05],[6.33,3.4],[6.4,2.95],[6.42,2.4],[6.52,1.7],[6.66,14.0],[6.66,9.4],[6.66,2.55],[6.83,5.1],[7.13,3.3],[7.43,2.45],[7.6,1.9],[7.77,3.05],[7.82,2.8],[7.97,2.5],[7.99,2.5],[8.22,15.4],[8.24,3.8],[8.29,4.4],[8.24,2.55],[8.27,1.8],[8.69,11.05],[8.74,2.55],[8.94,1.9],[9.11,3.05],[9.21,14.1],[9.21,12.75],[9.26,4.6],[9.21,2.8],[9.46,10.25],[9.51,11.4],[9.58,6.9],[9.44,4.3],[9.47,3.9],[9.58,4.3],[9.7,15.6],[9.71,3.05],[9.94,6.75],[9.93,2.8],[9.94,2.4],[10.14,1.7],[10.21,1.7],[10.34,2.05],[10.49,2.2],[10.68,2.7],[10.88,3.65],[11.08,2.3],[11.25,3.5],[11.37,2.55],[11.4,1.9],[11.78,2.95],[11.99,2.95],[12.19,2.55],[12.14,4.5],[12.37,5.75],[12.38,5.5],[12.49,5.0],[12.45,11.05],[12.7,6.4],[12.89,4.25],[13.47,4.85],[14.18,9.1],[14.18,8.9],[14.3,4.9],[14.83,4.25],[14.93,5.1],[15.05,5.75],[15.22,10.65],[15.22,3.8],[15.55,6.15],[15.7,14.1],[15.63,2.2],[16.09,8.8],[16.09,4.3],[16.1,2.8],[16.9,2.0],[17.0,2.35]];

const panels = [
  {title: panelTitles[0], band: tTestBand, hits: tTestHits},
  {title: panelTitles[1], band: fisherBand, hits: fisherHits},
  {title: panelTitles[2], band: chisqBand, hits: chisqHits},
  {title: panelTitles[3], band: waldBand, hits: waldHits},
  {title: panelTitles[4], band: waldShrinkBand, hits: waldShrinkHits}
];

// ---------------- drawing ----------------
const svg = d3.select("#chart");
const FONT = "'Liberation Sans', Arial, Helvetica, sans-serif";
const left = 30, right = 785.5, boxH = 145, firstTop = 15, step = 200.4;
const x = d3.scaleLinear().domain([2.448, 17.62]).range([left, right]);
const nullPts = nullPos.map((pos, j) => [pos, nullVals[j]]).filter(d => d[1] !== undefined);

panels.forEach((p, i) => {
  const top = firstTop + i * step, bottom = top + boxH;
  const y = d3.scaleLinear().domain([-0.74, 20.74]).range([bottom, top]);
  const g = svg.append("g");

  const clipId = "clip" + i;
  svg.append("clipPath").attr("id", clipId).append("rect")
    .attr("x", left).attr("y", top).attr("width", right - left).attr("height", boxH);

  const pts = nullPts.concat(snpPos.map((pos, j) => [pos, p.band[j]]).filter(d => d[1] !== undefined)).concat(p.hits);
  g.append("g").attr("clip-path", `url(#${clipId})`)
    .selectAll("circle").data(pts).join("circle")
    .attr("cx", d => x(d[0])).attr("cy", d => y(d[1])).attr("r", 2.5)
    .attr("fill", "rgba(0,0,0,0.8)");

  g.append("line").attr("x1", left).attr("x2", right)
    .attr("y1", y(threshold)).attr("y2", y(threshold))
    .attr("stroke", "#000").attr("stroke-width", 1).attr("stroke-dasharray", "4,3");

  g.append("rect").attr("x", left).attr("y", top).attr("width", right - left).attr("height", boxH)
    .attr("fill", "none").attr("stroke", "#111").attr("stroke-width", 1);

  // y axis
  const ya = g.append("g").attr("transform", `translate(${left},0)`)
    .call(d3.axisLeft(y).tickValues(yTickValues).tickSize(5).tickFormat(d3.format("d")));
  ya.select(".domain").remove();
  ya.selectAll("line").attr("stroke", "#000");
  ya.selectAll("text").attr("x", null).attr("dy", null).attr("text-anchor", "middle")
    .attr("transform", "translate(-7,0) rotate(-90)")
    .style("font-family", FONT).style("font-size", "11px").attr("fill", "#000");

  // x axis
  const xa = g.append("g").attr("transform", `translate(0,${bottom})`)
    .call(d3.axisBottom(x).tickValues(xTickValues).tickSize(6)
      .tickFormat((d, k) => xTickLabels[k]));
  xa.select(".domain").remove();
  xa.selectAll("line").attr("stroke", "#000");
  xa.selectAll("text").attr("y", 19).attr("dy", null)
    .style("font-family", FONT).style("font-size", "11px").attr("fill", "#000");

  // labels
  g.append("text").attr("x", (left + right) / 2).attr("y", top - 3.8)
    .attr("text-anchor", "middle").style("font-family", FONT).style("font-size", "13.5px")
    .style("font-weight", "bold").text(p.title);
  g.append("text").attr("x", (left + right) / 2).attr("y", bottom + 31)
    .attr("text-anchor", "middle").style("font-family", FONT).style("font-size", "11px")
    .text(xLabel);
  g.append("text").attr("transform", `translate(10,${(top + bottom) / 2}) rotate(-90)`)
    .attr("text-anchor", "middle").style("font-family", FONT).style("font-size", "11px")
    .text(yLabel);
});
</script>
</body></html>
